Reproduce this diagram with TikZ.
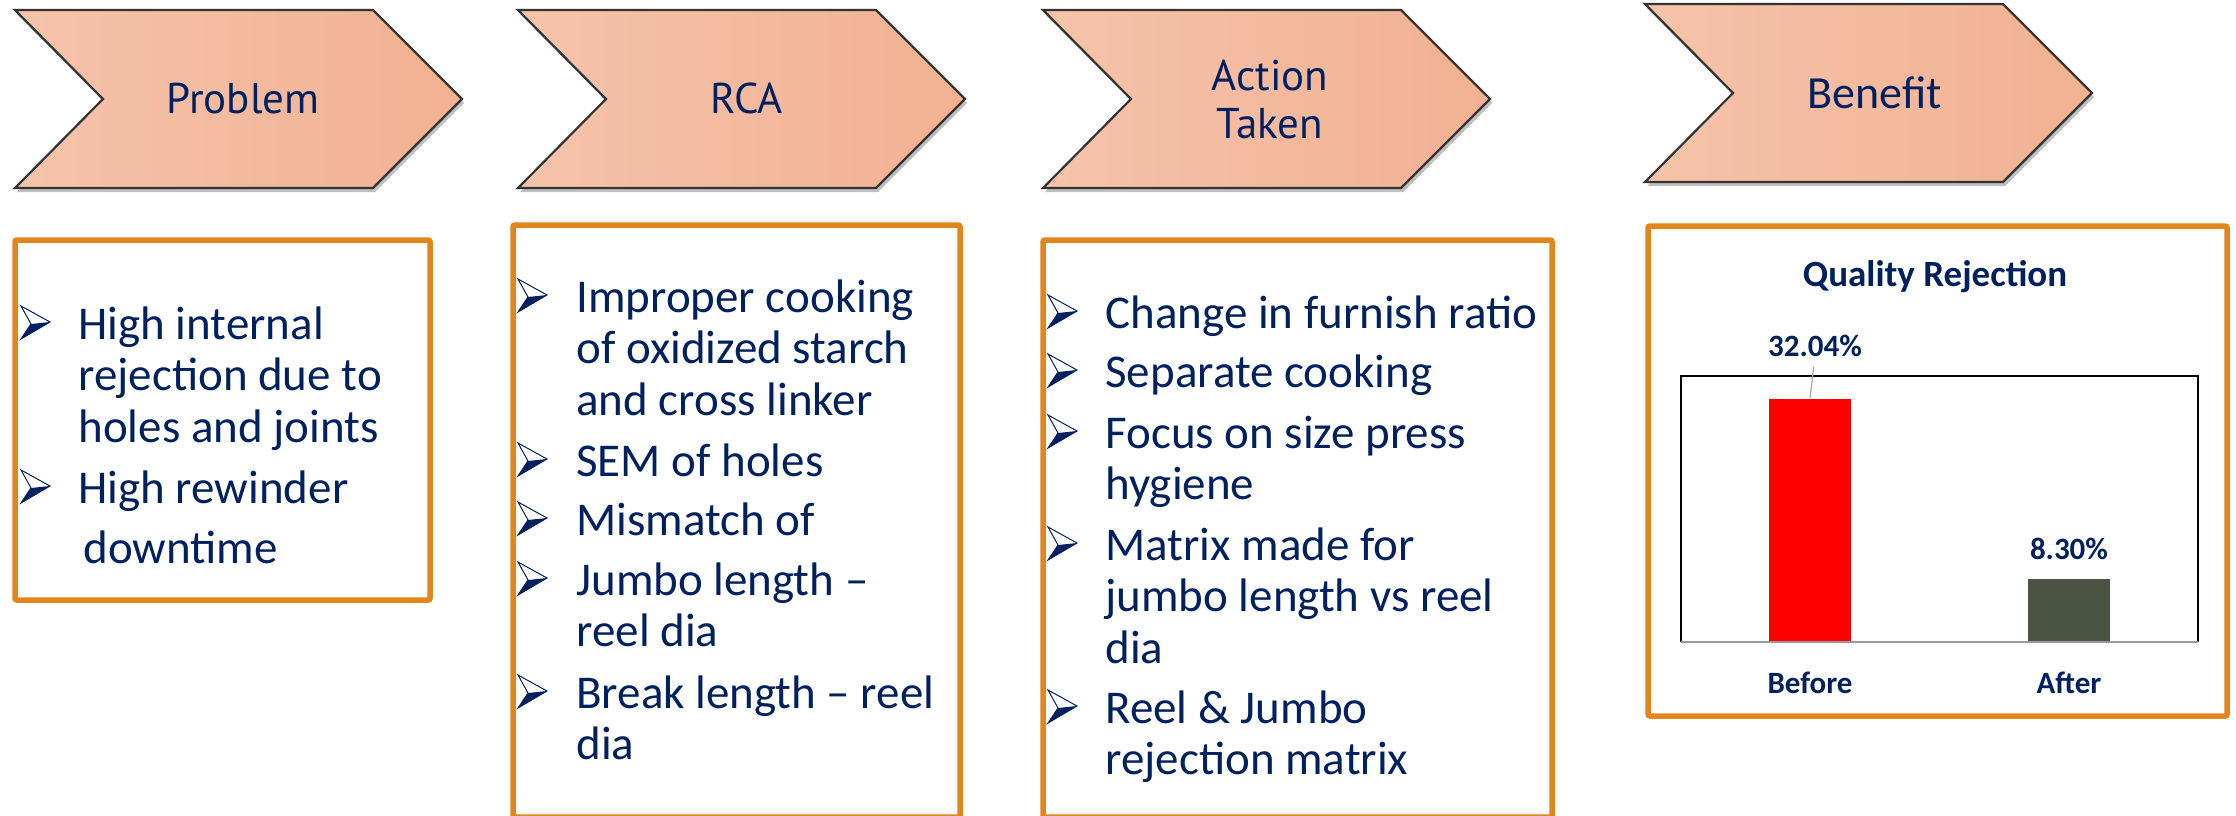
\documentclass[tikz,border=0pt]{standalone}
\usepackage{fontspec}
\setmainfont{Carlito}
\newfontfamily\headfont{PT Sans}
\usetikzlibrary{shadows}
\definecolor{navy}{HTML}{002060}
\definecolor{chevleft}{HTML}{F5C3AB}
\definecolor{chevright}{HTML}{F2B192}
\definecolor{boxorange}{HTML}{E3851B}
\definecolor{afterbar}{HTML}{4B5342}
\tikzstyle{chevron} = [draw=black!80, line width=1.1pt, left color=chevleft, right color=chevright, drop shadow={shadow xshift=1pt, shadow yshift=-2pt, fill=black, opacity=0.25}]
\tikzstyle{steptitle} = [text=navy, font=\headfont\fontsize{21.5}{24}\selectfont, align=center, inner sep=0pt]
\tikzstyle{kader} = [draw=boxorange, line width=2.75pt, rounded corners=1pt]
\tikzstyle{punt} = [anchor=base west, inner sep=0pt, text=navy]
\tikzstyle{chartlabel} = [anchor=base, inner sep=0pt, text=navy, font=\bfseries\fontsize{15.5}{18}\selectfont]
\tikzstyle{bar} = [inner sep=0pt, anchor=south, minimum width=41pt]
\newcommand{\itemtext}[1]{\parbox[t]{250pt}{\raggedright\fontsize{23.5}{25.75}\selectfont #1}}
\tikzset{arrowbullet/.pic={
  \fill[navy] (10,-15) -- (29,-17) -- (0,0) -- cycle;
  \draw[navy, line width=0.5pt, line join=miter] (0,-33) -- (29,-17) -- (0,0) -- (10,-15) -- cycle;
}}
\begin{document}
\begin{tikzpicture}[x=0.5pt, y=-0.5pt]
  \useasboundingbox (0,0) rectangle (2236,815);
  \clip (0,0) rectangle (2236,815);
  % chevrons
  \foreach \l/\t in {15/10, 518/10, 1043/10, 1645/4}
    \path[chevron] (\l,\t) -- ++(358,0) -- ++(89,89) -- ++(-89,89) -- ++(-358,0) -- ++(88,-89) -- cycle;
  \node[steptitle, anchor=base] (problem) at (243,113) {Problem};
  \node[steptitle, anchor=base] (rca) at (747,113) {RCA};
  \node[steptitle] (action) at (1270,99) {Action\\Taken};
  \node[steptitle, anchor=base, font=\fontsize{23}{26}\selectfont] (benefit) at (1875,108) {Benefit};

  % boxes
  \draw[kader] (15,240) rectangle (430,600);
  \draw[kader] (513,225) rectangle (960,817);
  \draw[kader] (1043,240) rectangle (1552,817);
  \draw[kader] (1648,226) rectangle (2227,716);

  % problem
  \foreach \y/\txt [count=\i] in {339/{High internal\\rejection due to\\holes and joints},
      503/{High rewinder\\[4.25pt]\hspace*{2.5pt}downtime}}{
    \pic at (21,\y) {arrowbullet};
    \node[punt] (prob\i) at (78,\y) {\itemtext{\txt}};
  }
  % rca
  \foreach \y/\txt [count=\i] in {312/{Improper cooking\\of oxidized starch\\and cross linker},
      476/{SEM of holes}, 535/{Mismatch of}, 595/{Jumbo length –\\reel dia},
      708/{Break length – reel\\dia}}{
    \pic at (518,\y) {arrowbullet};
    \node[punt] (rca\i) at (576,\y) {\itemtext{\txt}};
  }
  % action taken
  \foreach \y/\txt [count=\i] in {328/{Change in furnish ratio}, 387/{Separate cooking},
      448/{Focus on size press\\hygiene}, 560/{Matrix made for\\jumbo length vs reel\\dia},
      723/{Reel \& Jumbo\\rejection matrix}}{
    \pic at (1048,\y) {arrowbullet};
    \node[punt] (act\i) at (1105,\y) {\itemtext{\txt}};
  }

  % benefit chart
  \node[chartlabel, font=\bfseries\fontsize{18.5}{22}\selectfont] (charttitle) at (1935,286) {Quality Rejection};
  \draw[black, line width=1pt] (1681,642) -- (1681,376) -- (2198,376) -- (2198,642);
  \node[bar, fill=red, minimum height=121.5pt] (barbefore) at (1810,642) {};
  \node[bar, fill=afterbar, minimum height=31.5pt] (barafter) at (2069,642) {};
  \draw[black!40, line width=1pt] (1681,642) -- (2198,642);
  \node[chartlabel] (valbefore) at (1815,356) {32.04\%};
  \node[chartlabel] (valafter) at (2069,559) {8.30\%};
  \draw[black!35, line width=0.6pt, shorten <=5pt] (valbefore.south) -- (barbefore.north);
  \node[chartlabel] (lblbefore) at (1810,693) {Before};
  \node[chartlabel] (lblafter) at (2069,693) {After};
\end{tikzpicture}
\end{document}
